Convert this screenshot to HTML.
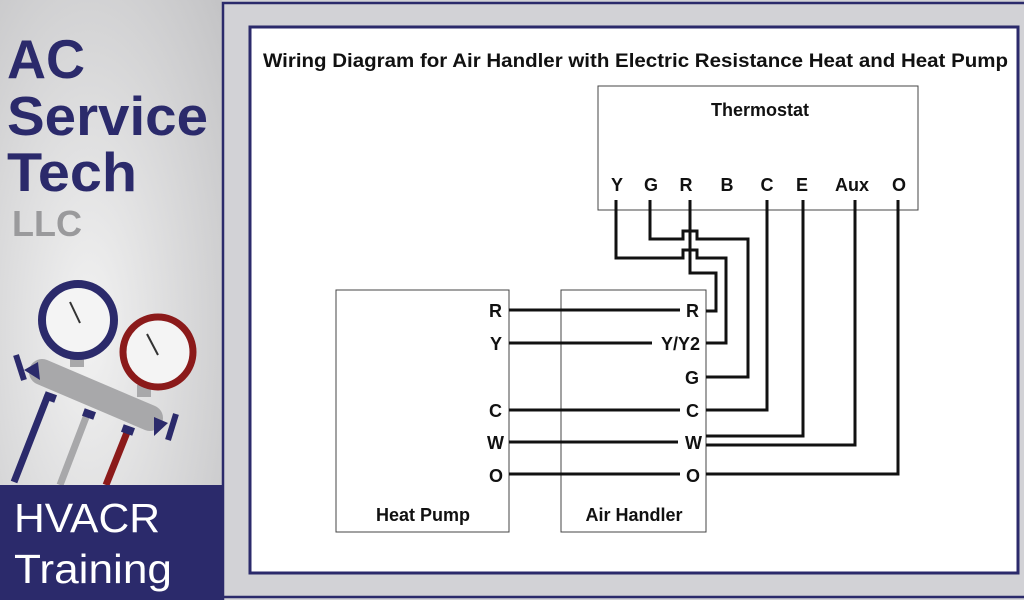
<!DOCTYPE html>
<html><head><meta charset="utf-8"><style>
html,body{margin:0;padding:0;background:#d2d2d6;}
svg{display:block;font-family:"Liberation Sans",sans-serif;}
</style></head><body>
<svg width="1024" height="600" viewBox="0 0 1024 600" xmlns="http://www.w3.org/2000/svg">
<defs>
<radialGradient id="lg" cx="0.4" cy="0.55" r="0.8">
<stop offset="0" stop-color="#f2f2f2"/><stop offset="1" stop-color="#c4c4c6"/>
</radialGradient>
</defs>
<rect x="0" y="0" width="1024" height="600" fill="#d2d2d6"/>
<rect x="0" y="0" width="222" height="600" fill="url(#lg)"/>
<path d="M223 600 V3 H1024" fill="none" stroke="#2b2a6b" stroke-width="2.5"/>
<line x1="222" y1="597" x2="1024" y2="597" stroke="#2b2a6b" stroke-width="2.5"/>
<rect x="250" y="27" width="768" height="546" fill="#fff" stroke="#2b2a6b" stroke-width="3"/>

<g fill="#2b2a6b" font-weight="bold">
<text x="7" y="78" font-size="55" textLength="78" lengthAdjust="spacingAndGlyphs">AC</text>
<text x="7" y="135" font-size="55" textLength="201" lengthAdjust="spacingAndGlyphs">Service</text>
<text x="7" y="191" font-size="55" textLength="130" lengthAdjust="spacingAndGlyphs">Tech</text>
</g>
<text x="12" y="236" font-size="36" font-weight="bold" fill="#9a9a9c">LLC</text>

<g>
<line x1="48" y1="395" x2="14" y2="482" stroke="#2b2a6b" stroke-width="7"/>
<line x1="88" y1="412" x2="60" y2="485" stroke="#a8a8aa" stroke-width="7"/>
<line x1="128" y1="430" x2="106" y2="485" stroke="#8b1a1a" stroke-width="7"/>
<rect x="44" y="393" width="12" height="8" fill="#2b2a6b" transform="rotate(20 50 397)"/>
<rect x="83" y="410" width="12" height="8" fill="#2b2a6b" transform="rotate(20 89 414)"/>
<rect x="122" y="426" width="12" height="8" fill="#2b2a6b" transform="rotate(20 128 430)"/>
<line x1="42" y1="372" x2="150" y2="418" stroke="#a8a8aa" stroke-width="26" stroke-linecap="round"/>
<polygon points="24,370 38,362 40,380" fill="#2b2a6b"/>
<line x1="16" y1="355" x2="24" y2="380" stroke="#2b2a6b" stroke-width="6"/>
<polygon points="168,423 154,417 154,436" fill="#2b2a6b"/>
<line x1="176" y1="414" x2="168" y2="440" stroke="#2b2a6b" stroke-width="6"/>
<rect x="70" y="355" width="14" height="12" fill="#a8a8aa"/>
<rect x="137" y="385" width="14" height="12" fill="#a8a8aa"/>
<circle cx="78" cy="320" r="36" fill="#f4f4f4" stroke="#2b2a6b" stroke-width="8"/>
<line x1="70" y1="302" x2="80" y2="323" stroke="#333" stroke-width="2"/>
<circle cx="158" cy="352" r="35" fill="#f4f4f4" stroke="#8b1a1a" stroke-width="7"/>
<line x1="147" y1="334" x2="158" y2="355" stroke="#333" stroke-width="2"/>
</g>

<rect x="0" y="485" width="222" height="115" fill="#2b2a6b"/>
<text x="14" y="532" font-size="41" fill="#fff" textLength="146" lengthAdjust="spacingAndGlyphs">HVACR</text>
<text x="14" y="583" font-size="41" fill="#fff" textLength="158" lengthAdjust="spacingAndGlyphs">Training</text>

<text x="263" y="67" font-size="19" font-weight="bold" fill="#111" textLength="745" lengthAdjust="spacingAndGlyphs">Wiring Diagram for Air Handler with Electric Resistance Heat and Heat Pump</text>

<rect x="598" y="86" width="320" height="124" fill="#fff" stroke="#444" stroke-width="1"/>
<text x="760" y="116" font-size="18" font-weight="bold" text-anchor="middle" fill="#111">Thermostat</text>
<g font-size="18" font-weight="bold" text-anchor="middle" fill="#111">
<text x="617" y="191">Y</text><text x="651" y="191">G</text><text x="686" y="191">R</text>
<text x="727" y="191">B</text><text x="767" y="191">C</text><text x="802" y="191">E</text>
<text x="852" y="191">Aux</text><text x="899" y="191">O</text>
</g>

<rect x="336" y="290" width="173" height="242" fill="#fff" stroke="#444" stroke-width="1"/>
<rect x="561" y="290" width="145" height="242" fill="#fff" stroke="#444" stroke-width="1"/>
<text x="423" y="521" font-size="18" font-weight="bold" text-anchor="middle" fill="#111">Heat Pump</text>
<text x="634" y="521" font-size="18" font-weight="bold" text-anchor="middle" fill="#111">Air Handler</text>

<g font-size="18" font-weight="bold" text-anchor="end" fill="#111">
<text x="502" y="317">R</text><text x="502" y="350">Y</text><text x="502" y="417">C</text>
<text x="504" y="449">W</text><text x="503" y="482">O</text>
<text x="699" y="317">R</text><text x="700" y="350">Y/Y2</text><text x="699" y="384">G</text>
<text x="699" y="417">C</text><text x="702" y="449">W</text><text x="700" y="482">O</text>
</g>

<g fill="none" stroke="#111" stroke-width="3">
<line x1="509" y1="310" x2="680" y2="310"/>
<line x1="509" y1="343" x2="652" y2="343"/>
<line x1="509" y1="410" x2="680" y2="410"/>
<line x1="509" y1="442" x2="678" y2="442"/>
<line x1="509" y1="474" x2="680" y2="474"/>
<path d="M690 200 V273 H716 V311 H706"/>
<path d="M616 200 V258 H683 V250 H697 V258 H726 V343 H706"/>
<path d="M650 200 V239 H683 V231 H697 V239 H748 V377 H706"/>
<path d="M767 200 V410 H706"/>
<path d="M803 200 V436 H706"/>
<path d="M855 200 V445 H706"/>
<path d="M898 200 V474 H706"/>
</g>
</svg>
</body></html>
